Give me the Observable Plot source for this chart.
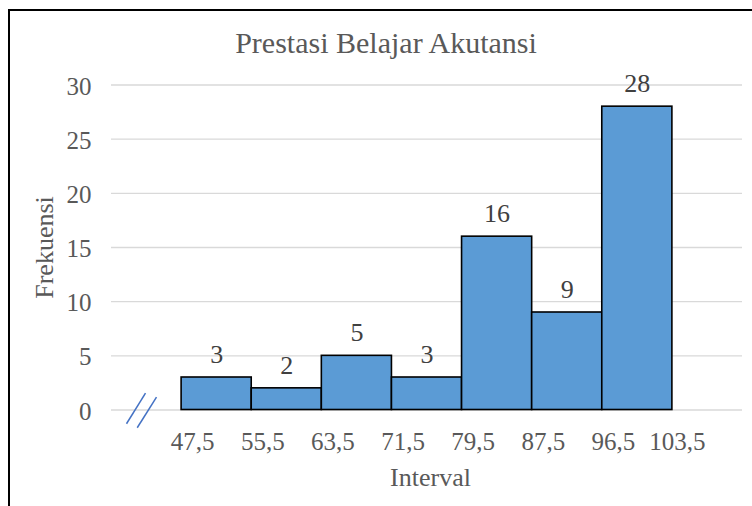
<!DOCTYPE html>
<html>
<head>
<meta charset="utf-8">
<script src="https://cdn.jsdelivr.net/npm/d3@7"></script>
<script src="https://cdn.jsdelivr.net/npm/@observablehq/plot@0.6"></script>
<style>
  html, body { margin: 0; padding: 0; background: #fff; }
  #wrap { position: relative; width: 752px; height: 506px; overflow: hidden; background: #fff; }
  #frame { position: absolute; left: 8px; top: 9px; width: 800px; height: 600px;
           border-left: 2px solid #000; border-top: 2px solid #000; pointer-events: none; }
</style>
</head>
<body>
<div id="wrap"><div id="frame"></div></div>
<script>
const chartTitle = "Prestasi Belajar Akutansi";
const xTitle = "Interval";
const yTitle = "Frekuensi";
const edgeLabels = ["47,5", "55,5", "63,5", "71,5", "79,5", "87,5", "96,5", "103,5"];
const frequencies = [3, 2, 5, 3, 16, 9, 28];
const yTicks = [0, 5, 10, 15, 20, 25, 30];
// axis-break "//" decoration, in chart units (bin index, frequency)
const breakMarks = [
  {x1: -0.515, y1: 1.55, x2: -0.786, y2: -1.27},
  {x1: -0.358, y1: 1.18, x2: -0.633, y2: -1.64}
];

const bins = frequencies.map((v, i) => ({i, v}));
const edges = edgeLabels.map((label, i) => ({i, label}));

const font = "Liberation Serif, Times New Roman, serif";
const gray = "#595959";

const chart = Plot.plot({
  width: 752,
  height: 506,
  marginLeft: 111,
  marginRight: 10,
  marginTop: 84.5,
  marginBottom: 96.5,
  style: {fontFamily: font, background: "transparent", overflow: "visible"},
  x: {domain: [-1, 8], axis: null},
  y: {domain: [0, 30], axis: null},
  marks: [
    Plot.gridY(yTicks, {stroke: "#D9D9D9", strokeOpacity: 1, strokeWidth: 1.3}),
    Plot.axisY(yTicks, {tickSize: 0, tickPadding: 20, fontSize: 25, fill: gray, dy: 1.5, label: null}),
    Plot.rect(bins, {x1: d => d.i, x2: d => d.i + 1, y1: 0, y2: d => d.v,
      fill: "#5B9BD5", stroke: "#000", strokeWidth: 1.6}),
    Plot.text(bins, {x: d => d.i + 0.5, y: d => d.v, text: d => String(d.v),
      dy: -23, fontSize: 26, fill: "#404040"}),
    Plot.text(edges, {x: d => d.i, y: 0, text: d => d.label, textAnchor: "end",
      dx: 33, dy: 32, fontSize: 25, fill: gray}),
    Plot.link(breakMarks, {x1: "x1", y1: "y1", x2: "x2", y2: "y2", stroke: "#4472C4", strokeWidth: 1.5}),
    Plot.text([xTitle], {frameAnchor: "bottom", lineAnchor: "middle", textAnchor: "middle",
      dx: 3.5, dy: 68, fontSize: 26, fill: gray}),
    Plot.text([yTitle], {frameAnchor: "left", lineAnchor: "middle", textAnchor: "middle",
      rotate: -90, dx: -67, fontSize: 26, fill: gray}),
    Plot.text([chartTitle], {frameAnchor: "top", lineAnchor: "middle", textAnchor: "middle",
      dx: -41, dy: -42, fontSize: 30, fill: gray})
  ]
});
chart.style.position = "absolute";
chart.style.left = "0px";
chart.style.top = "0px";
document.getElementById("wrap").appendChild(chart);
</script>
</body>
</html>
